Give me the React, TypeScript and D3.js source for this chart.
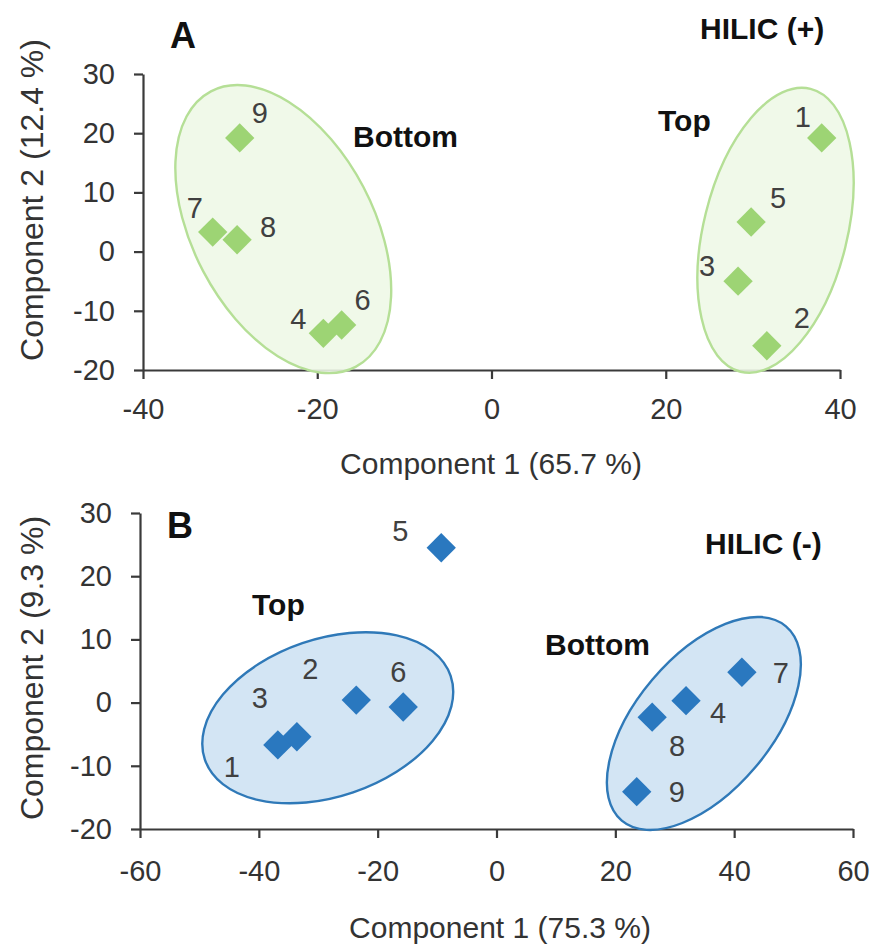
import React, { useRef, useEffect } from 'react';
import * as d3 from 'd3';

// Panel A – HILIC (+)
const sampleIdsA = ['1', '2', '3', '4', '5', '6', '7', '8', '9'];
const comp1A = [37.9, 31.6, 28.3, -19.3, 29.8, -17.2, -32.0, -29.2, -28.9];
const comp2A = [19.2, -15.9, -5.0, -13.8, 5.0, -12.4, 3.3, 2.0, 19.2];

// Panel B – HILIC (-)
const sampleIdsB = ['1', '2', '3', '4', '5', '6', '7', '8', '9'];
const comp1B = [-36.8, -23.6, -33.6, 31.9, -9.3, -15.7, 41.3, 26.2, 23.6];
const comp2B = [-6.7, 0.4, -5.4, 0.3, 24.5, -0.7, 4.8, -2.3, -14.1];

const xTicksA = [-40, -20, 0, 20, 40];
const xTicksB = [-60, -40, -20, 0, 20, 40, 60];
const yTicks = [-20, -10, 0, 10, 20, 30];

// group ellipses: centre in data units
const groupsA = [
  { name: 'Bottom', cx: -23.9, cy: 3.8 },
  { name: 'Top', cx: 32.6, cy: 3.6 },
];
const groupsB = [
  { name: 'Top', cx: -28.4, cy: -2.4 },
  { name: 'Bottom', cx: 34.9, cy: -3.3 },
];

const FONT = "'Liberation Sans', Arial, Helvetica, sans-serif";

interface PanelProps {
  ids: string[];
  xs: number[];
  ys: number[];
  groups: { name: string; cx: number; cy: number }[];
  // pixel layout
  shape: { rx: number; ry: number; rot: number }[];
  labelOffsets: [number, number][];
  xDomain: [number, number];
  xRange: [number, number];
  yRange: [number, number];
  xTicks: number[];
  xPad: number;
  xTitle: string;
  yTitle: string;
  xTitlePos: [number, number];
  yTitlePos: [number, number];
  letter: string;
  letterPos: [number, number];
  mode: string;
  modePos: [number, number];
  groupLabelPos: [number, number][];
  markFill: string;
  ellFill: string;
  ellStroke: string;
}

const Panel: React.FC<PanelProps> = (p) => {
  const ref = useRef<SVGGElement>(null);

  useEffect(() => {
    const g = d3.select(ref.current);
    g.selectAll('*').remove();

    const x = d3.scaleLinear().domain(p.xDomain).range(p.xRange);
    const y = d3.scaleLinear().domain([-20, 30]).range(p.yRange);
    const fmt = (d: any) => String(d); // plain hyphen like the original

    // axes
    const ax = g.append('g')
      .attr('transform', `translate(0,${p.yRange[0]})`)
      .call(d3.axisBottom(x).tickValues(p.xTicks).tickFormat(fmt).tickSize(9).tickSizeOuter(0).tickPadding(p.xPad));
    const ay = g.append('g')
      .attr('transform', `translate(${p.xRange[0]},0)`)
      .call(d3.axisLeft(y).tickValues(yTicks).tickFormat(fmt).tickSize(9).tickSizeOuter(0).tickPadding(19));
    [ax, ay].forEach(a => {
      a.select('.domain').attr('stroke', '#3a3a3a').attr('stroke-width', 2.2);
      a.selectAll('.tick line').attr('stroke', '#3a3a3a').attr('stroke-width', 2.2);
      a.selectAll('.tick text')
        .attr('font-family', FONT)
        .attr('font-size', 29)
        .attr('fill', '#333');
    });

    // ellipses
    p.groups.forEach((grp, i) => {
      const s = p.shape[i];
      g.append('ellipse')
        .attr('transform', `translate(${x(grp.cx)},${y(grp.cy)}) rotate(${s.rot})`)
        .attr('rx', s.rx)
        .attr('ry', s.ry)
        .attr('fill', p.ellFill)
        .attr('fill-opacity', 0.88)
        .attr('stroke', p.ellStroke)
        .attr('stroke-width', 2.4);
    });

    // diamonds
    const sym = d3.symbol(d3.symbolSquare, 430);
    g.selectAll('path.pt')
      .data(p.ids)
      .enter()
      .append('path')
      .attr('class', 'pt')
      .attr('d', sym)
      .attr('transform', (_, i) => `translate(${x(p.xs[i])},${y(p.ys[i])}) rotate(45)`)
      .attr('fill', p.markFill);

    // sample numbers
    g.selectAll('text.num')
      .data(p.ids)
      .enter()
      .append('text')
      .attr('class', 'num')
      .attr('x', (_, i) => x(p.xs[i]) + p.labelOffsets[i][0])
      .attr('y', (_, i) => y(p.ys[i]) + p.labelOffsets[i][1])
      .attr('dy', '0.36em')
      .attr('text-anchor', 'middle')
      .attr('font-family', FONT)
      .attr('font-size', 29)
      .attr('fill', '#404040')
      .text(d => d);

    // group names
    p.groups.forEach((grp, i) => {
      g.append('text')
        .attr('x', p.groupLabelPos[i][0])
        .attr('y', p.groupLabelPos[i][1])
        .attr('font-family', FONT)
        .attr('font-weight', 'bold')
        .attr('font-size', 30)
        .attr('fill', '#111')
        .text(grp.name);
    });

    g.append('text')
      .attr('x', p.modePos[0]).attr('y', p.modePos[1])
      .attr('font-family', FONT).attr('font-weight', 'bold').attr('font-size', 30)
      .attr('fill', '#111')
      .text(p.mode);

    g.append('text')
      .attr('x', p.letterPos[0]).attr('y', p.letterPos[1])
      .attr('font-family', FONT).attr('font-weight', 'bold').attr('font-size', 36)
      .attr('fill', '#111')
      .text(p.letter);

    g.append('text')
      .attr('x', p.xTitlePos[0]).attr('y', p.xTitlePos[1])
      .attr('text-anchor', 'middle')
      .attr('font-family', FONT).attr('font-size', 30)
      .attr('fill', '#333')
      .text(p.xTitle);

    g.append('text')
      .attr('transform', `translate(${p.yTitlePos[0]},${p.yTitlePos[1]}) rotate(-90)`)
      .attr('text-anchor', 'middle')
      .attr('dy', '0.36em')
      .attr('font-family', FONT).attr('font-size', 32)
      .attr('fill', '#333')
      .text(p.yTitle);
  }, [p]);

  return <g ref={ref} />;
};

export default function App() {
  return (
    <svg
      width={879}
      height={947}
      style={{ position: 'absolute', left: 0, top: 0, display: 'block', background: '#fff' }}
    >
      <Panel
        ids={sampleIdsA}
        xs={comp1A}
        ys={comp2A}
        groups={groupsA}
        shape={[
          { rx: 90.5, ry: 155.6, rot: -27.7 },
          { rx: 71.8, ry: 145.7, rot: 13.9 },
        ]}
        labelOffsets={[
          [-19, -21], [35, -28], [-31, -16], [-25, -15], [27, -24],
          [21, -25], [-18, -25], [31, -13], [20, -25],
        ]}
        xDomain={[-40, 40]}
        xRange={[143, 840]}
        yRange={[370, 74]}
        xTicks={xTicksA}
        xPad={19}
        xTitle="Component 1 (65.7 %)"
        yTitle="Component 2 (12.4 %)"
        xTitlePos={[491, 474]}
        yTitlePos={[31, 200]}
        letter="A"
        letterPos={[170, 48]}
        mode="HILIC (+)"
        modePos={[700, 39]}
        groupLabelPos={[[353, 147], [658, 131]]}
        markFill="#9dd474"
        ellFill="#eef8e6"
        ellStroke="#b5df96"
      />
      <Panel
        ids={sampleIdsB}
        xs={comp1B}
        ys={comp2B}
        groups={groupsB}
        shape={[
          { rx: 129.8, ry: 78.8, rot: -18.8 },
          { rx: 127.2, ry: 67.6, rot: -49.8 },
        ]}
        labelOffsets={[
          [-46, 22], [-46, -32], [-37, -39], [32, 12], [-41, -17],
          [-5, -35], [39, 0], [25, 28], [40, 0],
        ]}
        xDomain={[-60, 60]}
        xRange={[140, 853]}
        yRange={[829, 513]}
        xTicks={xTicksB}
        xPad={22}
        xTitle="Component 1 (75.3 %)"
        yTitle="Component 2 (9.3 %)"
        xTitlePos={[500, 938]}
        yTitlePos={[31, 668]}
        letter="B"
        letterPos={[167, 538]}
        mode="HILIC (-)"
        modePos={[705, 554]}
        groupLabelPos={[[252, 615], [545, 655]]}
        markFill="#2a78bf"
        ellFill="#cde1f3"
        ellStroke="#2f79b8"
      />
    </svg>
  );
}
